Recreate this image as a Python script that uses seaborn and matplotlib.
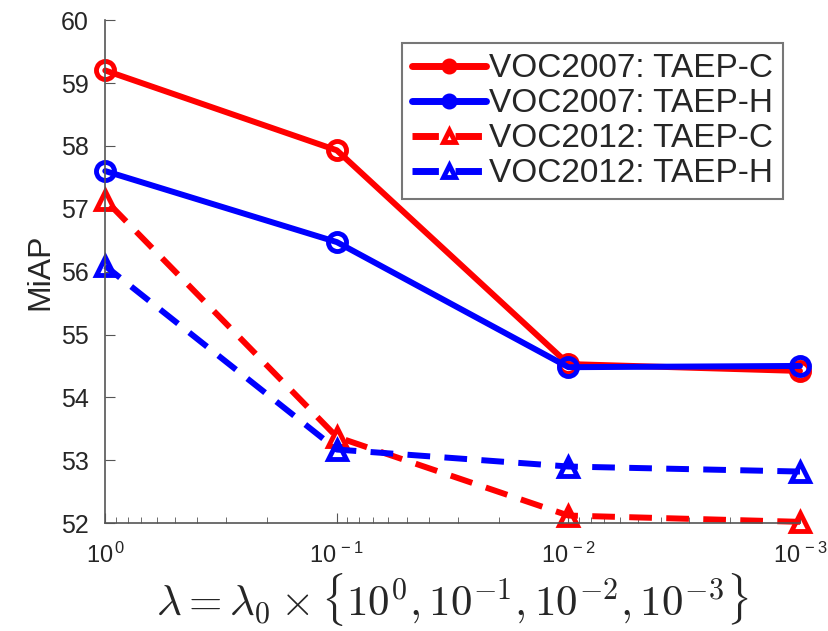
import numpy as np
import pandas as pd
import matplotlib
matplotlib.use("Agg")
import matplotlib.pyplot as plt
import seaborn as sns

# values
lambdas = [1, 0.1, 0.01, 0.001]
tick_powers = [0, -1, -2, -3]
voc07_c = [59.2, 57.93, 54.53, 54.42]
voc07_h = [57.6, 56.47, 54.48, 54.5]
voc12_c = [57.14, 53.37, 52.12, 52.02]
voc12_h = [56.09, 53.17, 52.9, 52.82]

series = [
    ("VOC2007: TAEP-C", voc07_c, "red", "-", "o"),
    ("VOC2007: TAEP-H", voc07_h, "blue", "-", "o"),
    ("VOC2012: TAEP-C", voc12_c, "red", "--", "^"),
    ("VOC2012: TAEP-H", voc12_h, "blue", "--", "^"),
]

sns.set_style("white")
plt.rcParams['font.family'] = ['Liberation Sans', 'DejaVu Sans']
plt.rcParams['mathtext.fontset'] = 'cm'

fig = plt.figure(figsize=(8.29, 6.31), dpi=100)
ax = fig.add_axes([0.127, 0.171, 0.838, 0.797])

for name, vals, col, ls, mk in series:
    df = pd.DataFrame({"lam": lambdas, "miap": vals})
    sns.lineplot(data=df, x="lam", y="miap", ax=ax, color=col,
                 marker=mk, markersize=13, markerfacecolor="none",
                 markeredgecolor=col, markeredgewidth=3.5, linewidth=4.3,
                 label=name)
    line = ax.lines[-1]
    line.set_linestyle(ls)
    if ls == "--":
        line.set_dashes([3.8, 2.4])
    line.set_clip_on(False)

ax.set_xscale("log")
ax.set_xlim(1, 0.001)
ax.set_ylim(52, 60)
ax.set_xticks(lambdas)
ax.set_xticklabels([r"$\mathregular{10^{\,%d}}$" % p for p in tick_powers])
ax.set_yticks(range(52, 61))
ax.tick_params(axis="both", direction="in", length=7,
               color="#555555", labelcolor="#262626", left=True, bottom=True)
ax.tick_params(axis="x", labelsize=17, pad=14)
ax.tick_params(axis="y", labelsize=18, pad=12)
ax.tick_params(axis="x", which="minor", direction="in", length=4,
               color="#555555", bottom=True)
ax.set_ylabel("MiAP", fontsize=23, color="#262626", labelpad=4)
ax.set_xlabel(r"$\lambda = \lambda_0 \times \{10^0, 10^{-1}, 10^{-2}, 10^{-3}\}$",
              fontsize=31, labelpad=2, color="#262626")

for s in ["top", "right"]:
    ax.spines[s].set_visible(False)
for s in ["left", "bottom"]:
    ax.spines[s].set_color("#555555")
    ax.spines[s].set_linewidth(1.2)

leg = ax.legend(loc="upper right", fontsize=24, fancybox=False, framealpha=1,
                edgecolor="#777777", handlelength=2.2, handletextpad=0.1,
                borderpad=0.3, labelspacing=0.12, borderaxespad=0,
                bbox_to_anchor=(0.9755, 0.954))
for h in leg.legend_handles:
    h.set_markersize(8)
    h.set_markerfacecolor("none")
    h.set_linewidth(5)
leg.get_frame().set_linewidth(1.5)

fig.savefig("out.png", dpi=100)
